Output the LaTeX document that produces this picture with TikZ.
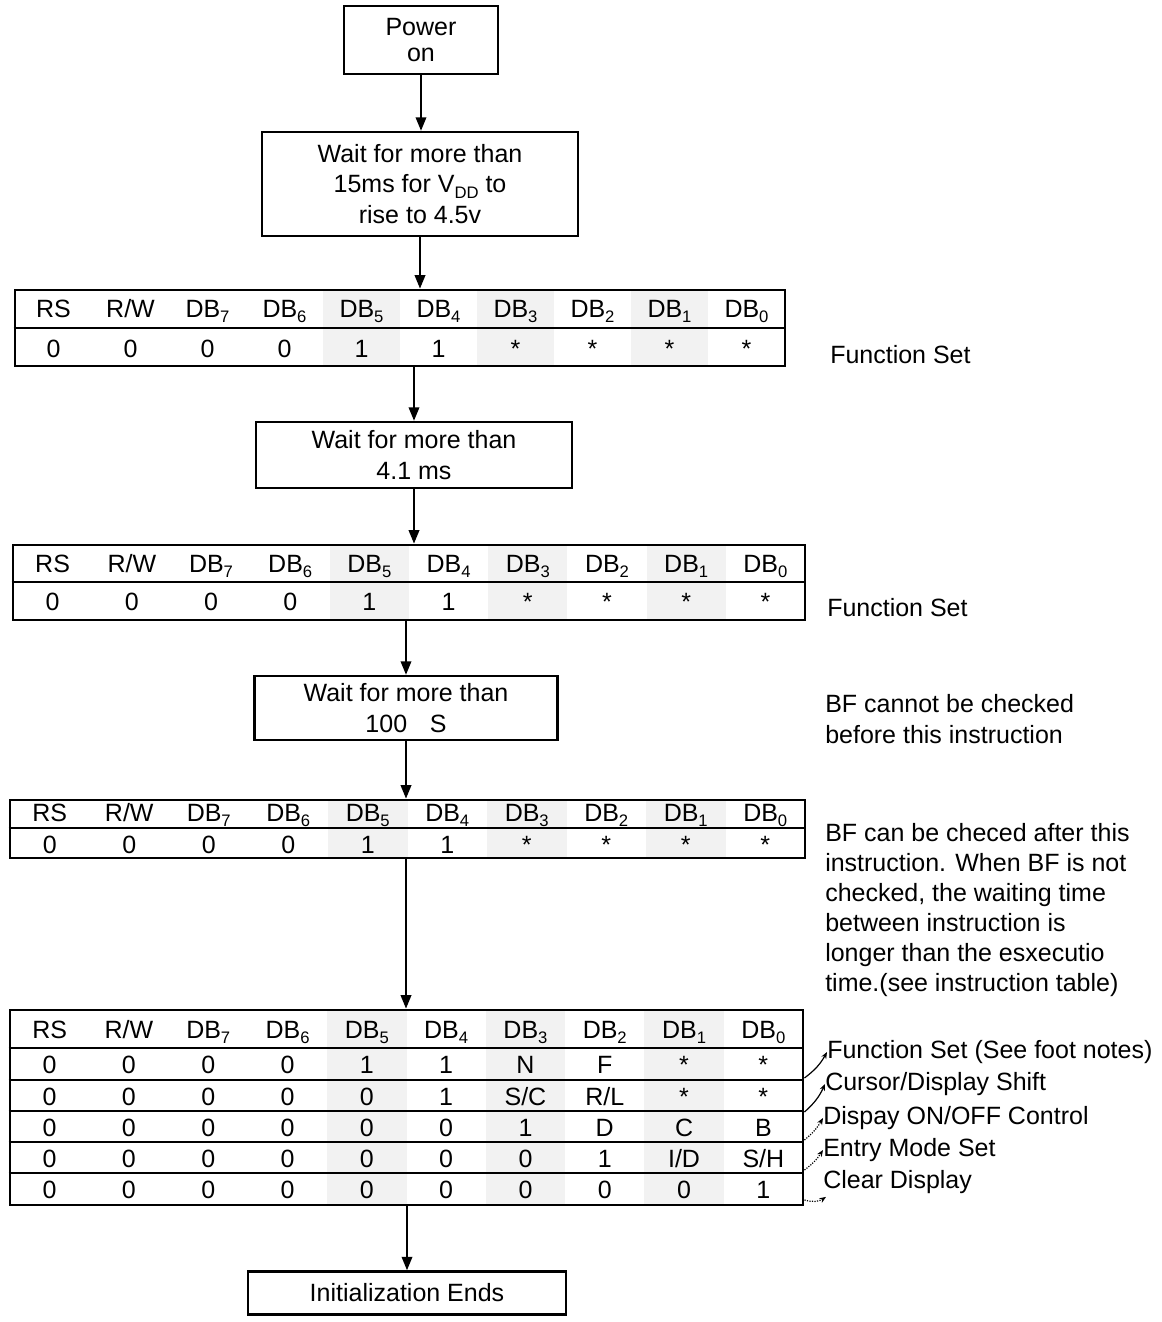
\documentclass[tikz,border=0pt]{standalone}
\usepackage{fontspec}
\setmainfont{Liberation Sans}
\usetikzlibrary{arrows.meta,calc}
\newcommand\sbs[1]{\raisebox{-0.45ex}{\fontsize{12.5}{12.5}\selectfont #1}}
\def\hdr{RS,R/W,DB\sbs{7},DB\sbs{6},DB\sbs{5},DB\sbs{4},DB\sbs{3},DB\sbs{2},DB\sbs{1},DB\sbs{0}}
\def\fsrow{0,0,0,0,1,1,*,*,*,*}
\begin{document}
\begin{tikzpicture}[x=0.75pt,y=-0.75pt,
  every node/.style={font=\fontsize{18.75}{22.5}\selectfont, inner sep=0pt},
  box/.style={draw, line width=2pt, align=center},
  flow/.style={line width=1pt, -{Triangle[length=10pt,width=8pt]}},
  tab/.style={draw, line width=2.2pt},
  rule/.style={line width=2.2pt},
  shade/.style={fill=gray!10},
  cell/.style={anchor=base},
  lab/.style={anchor=west},
  note/.style={line width=0.9pt, -{Stealth[length=5pt,width=4pt]}},
  faint/.style={note, densely dotted}]
\useasboundingbox (0,0) rectangle (1162,1322);

% ---------- boxes ----------
\node[box, minimum width=115.5pt, minimum height=51pt, font=\fontsize{18.75}{19.5}\selectfont] (b1) at (421,40) {Power\\on};
\node[box, minimum width=237pt, minimum height=78pt, font=\fontsize{18.75}{23}\selectfont] (b2) at (420,184) {Wait for more than\\15ms for V\sbs{DD} to\\rise to 4.5v};
\node[box, minimum width=237pt, minimum height=49.5pt, font=\fontsize{18.75}{23.5}\selectfont] (b3) at (414,455) {Wait for more than\\4.1 ms};
\node[box, minimum width=227.25pt, minimum height=48pt, font=\fontsize{18.75}{23.5}\selectfont] (b4) at (406,708) {Wait for more than\\100\hspace{17pt}S};
\node[box, minimum width=238.5pt, minimum height=32.25pt] (b5) at (407,1293) {Initialization Ends};

% ---------- table 1 ----------
\foreach \k in {4,6,8} \fill[shade] ({15+77*\k},290) rectangle ({15+77*(\k+1)},366);
\node[tab, minimum width=577.5pt, minimum height=57pt] (t1) at (400,328) {};
\draw[rule] (t1.west |- 0,328) -- (t1.east |- 0,328);
\foreach \c [count=\i] in \hdr \node[cell] (t1h\i) at ({15+77*(\i-0.5)},317) {\c};
\foreach \c [count=\i] in \fsrow \node[cell] (t1d\i) at ({15+77*(\i-0.5)},357) {\c};
\node[lab] (l1) at (830,355) {Function Set};

% ---------- table 2 ----------
\foreach \k in {4,6,8} \fill[shade] ({13+79.2*\k},545) rectangle ({13+79.2*(\k+1)},620);
\node[tab, minimum width=594pt, minimum height=56.25pt] (t2) at (409,582.5) {};
\draw[rule] (t2.west |- 0,582) -- (t2.east |- 0,582);
\foreach \c [count=\i] in \hdr \node[cell] (t2h\i) at ({13+79.2*(\i-0.5)},572) {\c};
\foreach \c [count=\i] in \fsrow \node[cell] (t2d\i) at ({13+79.2*(\i-0.5)},610) {\c};
\node[lab] (l2) at (827,608) {Function Set};

\node[lab, align=left, font=\fontsize{18.75}{23.25}\selectfont] (n1) at (825,719) {BF cannot be checked\\before this instruction};

% ---------- table 3 ----------
\foreach \k in {4,6,8} \fill[shade] ({10+79.5*\k},800) rectangle ({10+79.5*(\k+1)},858);
\node[tab, minimum width=596.25pt, minimum height=43.5pt] (t3) at (407.5,829) {};
\draw[rule] (t3.west |- 0,828) -- (t3.east |- 0,828);
\foreach \c [count=\i] in \hdr \node[cell] (t3h\i) at ({10+79.5*(\i-0.5)},821) {\c};
\foreach \c [count=\i] in \fsrow \node[cell] (t3d\i) at ({10+79.5*(\i-0.5)},853) {\c};

\node[lab, align=left, font=\fontsize{18.75}{22.5}\selectfont] (n2) at (825,910) {BF can be checed after this\\instruction. When BF is not\\checked, the waiting time\\between instruction is\\longer than the esxecutio\\time.(see instruction table)};

% ---------- table 4 ----------
\foreach \k in {4,6,8} \fill[shade] ({10+79.3*\k},1010) rectangle ({10+79.3*(\k+1)},1205);
\node[tab, minimum width=594.75pt, minimum height=146.25pt] (t4) at (406.5,1107.5) {};
\foreach \y in {1048,1080,1111,1142,1173}
  \draw[rule] (t4.west |- 0,\y) -- (t4.east |- 0,\y);
\foreach \c [count=\i] in \hdr \node[cell] (t4h\i) at ({10+79.3*(\i-0.5)},1038) {\c};
\foreach \c [count=\i] in {0,0,0,0,1,1,N,F,*,*} \node[cell] (t4a\i) at ({10+79.3*(\i-0.5)},1073) {\c};
\foreach \c [count=\i] in {0,0,0,0,0,1,S/C,R/L,*,*} \node[cell] (t4b\i) at ({10+79.3*(\i-0.5)},1105) {\c};
\foreach \c [count=\i] in {0,0,0,0,0,0,1,D,C,B} \node[cell] (t4c\i) at ({10+79.3*(\i-0.5)},1136) {\c};
\foreach \c [count=\i] in {0,0,0,0,0,0,0,1,I/D,S/H} \node[cell] (t4d\i) at ({10+79.3*(\i-0.5)},1167) {\c};
\foreach \c [count=\i] in {0,0,0,0,0,0,0,0,0,1} \node[cell] (t4e\i) at ({10+79.3*(\i-0.5)},1198) {\c};

\node[lab] (m1) at (827,1052) {Function Set (See foot notes)};
\node[lab] (m2) at (825,1084) {Cursor/Display Shift};
\node[lab] (m3) at (823,1118) {Dispay ON/OFF Control};
\node[lab] (m4) at (823,1150) {Entry Mode Set};
\node[lab] (m5) at (823,1182) {Clear Display};

\coordinate (a1) at (t4.east |- 0,1078);
\coordinate (a2) at (t4.east |- 0,1112);
\coordinate (a3) at (t4.east |- 0,1140);
\coordinate (a4) at (t4.east |- 0,1170);
\coordinate (a5) at (t4.east |- 0,1200);
\draw[note] (a1) to[bend right=12] (m1.west);
\draw[note] (a2) to[bend right=12] (m2.west);
\draw[faint] (a3) to[bend right=10] (m3.west);
\draw[faint] (a4) to[bend right=10] (m4.west);
\draw[faint] (a5) to[bend right=25] ($(m5.south west)+(3,3)$);

% ---------- flow arrows ----------
\draw[flow] (b1.south) -- (b1.south |- b2.north);
\draw[flow] (b2.south) -- (b2.south |- t1.north);
\draw[flow] (b3.north |- t1.south) -- (b3.north);
\draw[flow] (b3.south) -- (b3.south |- t2.north);
\draw[flow] (b4.north |- t2.south) -- (b4.north);
\draw[flow] (b4.south) -- (b4.south |- t3.north);
\draw[flow] (b4.south |- t3.south) -- (b4.south |- t4.north);
\draw[flow] (b5.north |- t4.south) -- (b5.north);
\end{tikzpicture}
\end{document}
